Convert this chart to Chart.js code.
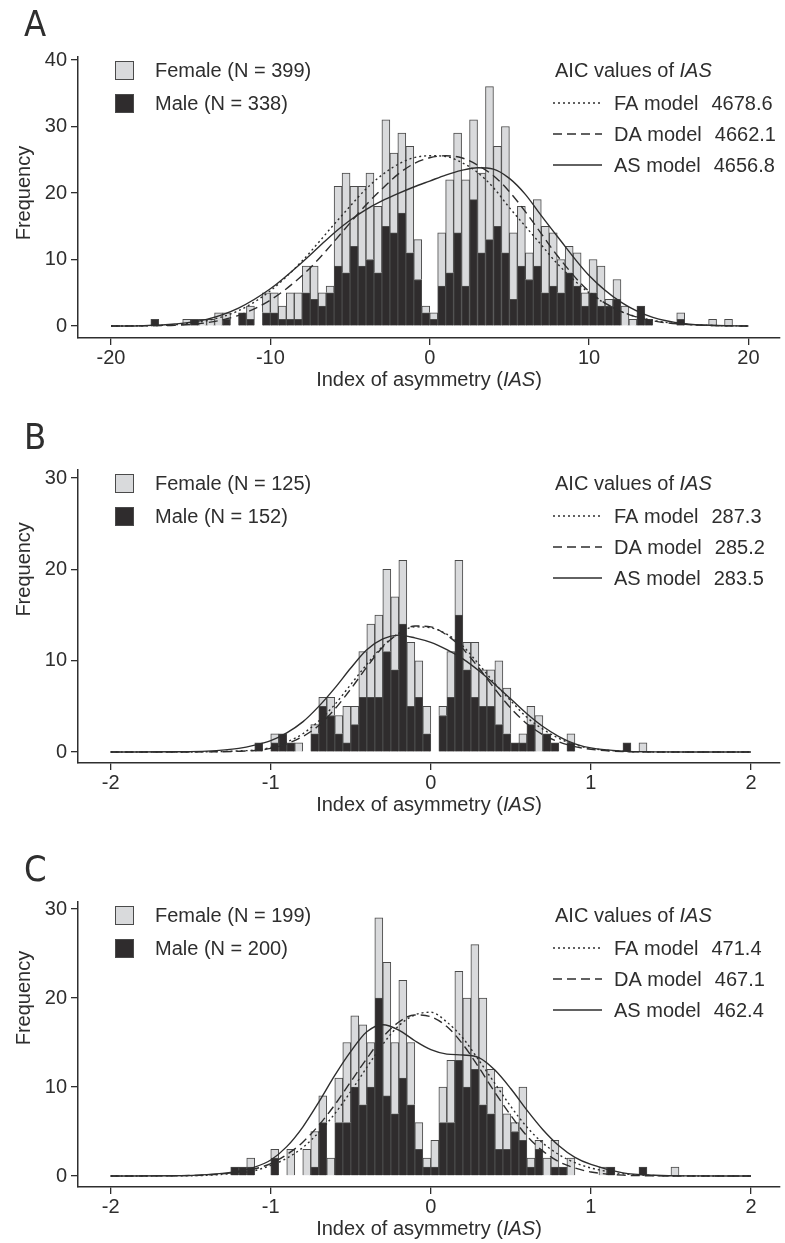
<!DOCTYPE html>
<html><head><meta charset="utf-8">
<script src="https://cdn.jsdelivr.net/npm/chart.js@4.4.0/dist/chart.umd.min.js"></script>
<style>
html,body{margin:0;padding:0;background:#fff;}
#wrap{position:relative;width:785px;height:1243px;overflow:hidden;}
canvas{position:absolute;left:0;display:block;}
</style></head><body>
<div id="wrap">
<canvas id="cA" width="785" height="413" style="top:0"></canvas>
<canvas id="cB" width="785" height="414" style="top:413px"></canvas>
<canvas id="cC" width="785" height="416" style="top:827px"></canvas>
</div>
<script>
// ---------- Panel A data ----------
const aBins = [-17.25,-16.75,-16.25,-15.75,-15.25,-14.75,-14.25,-13.75,-13.25,-12.75,-12.25,-11.75,-11.25,-10.75,-10.25,-9.75,-9.25,-8.75,-8.25,-7.75,-7.25,-6.75,-6.25,-5.75,-5.25,-4.75,-4.25,-3.75,-3.25,-2.75,-2.25,-1.75,-1.25,-0.75,-0.25,0.25,0.75,1.25,1.75,2.25,2.75,3.25,3.75,4.25,4.75,5.25,5.75,6.25,6.75,7.25,7.75,8.25,8.75,9.25,9.75,10.25,10.75,11.25,11.75,12.25,12.75,13.25,13.75,14.25,14.75,15.25,15.75,16.25,16.75,17.25,17.75,18.25,18.75];
const aMale   = [1,0,0,0,0,1,0,0,0,1,0,2,1,0,2,2,1,1,1,5,4,3,5,9,8,12,9,10,8,15,14,17,11,7,2,1,6,8,14,6,19,11,13,15,11,4,9,7,9,5,6,5,8,6,3,5,3,3,4,0,0,3,1,0,0,0,1,0,0,0,0,0,0];
const aFemale = [0,0,0,0,1,0,1,1,2,1,0,0,2,0,3,3,2,4,4,4,5,2,1,12,15,9,12,13,10,16,12,12,16,6,1,1,8,14,15,16,12,12,23,12,19,10,9,4,10,10,8,5,4,5,2,5,6,1,3,3,1,0,0,0,0,0,1,0,0,0,1,0,1];
const aCurveX = [-20,-18,-16,-14,-12,-10,-8,-7,-6,-5,-4,-3,-2,-1,0,1,2,3,4,5,6,7,8,10,12,14,16,18,20];
const aFA = [0,0.05,0.2,0.8,2.3,5.3,9.8,12.5,15.3,18.0,20.6,22.7,24.3,25.3,25.6,25.5,24.6,23.1,20.8,17.8,15.0,12.2,9.4,5.0,2.2,0.85,0.28,0.07,0];
const aDA = [0,0.03,0.12,0.5,1.6,3.9,7.6,10.0,12.7,15.5,18.2,20.6,22.8,24.4,25.3,25.6,25.3,24.2,22.6,20.2,17.2,13.9,10.6,5.2,2.2,0.8,0.25,0.06,0];
const aAS = [0,0.05,0.3,1.0,2.7,5.6,9.6,11.8,14.0,15.9,17.5,18.8,19.9,20.9,21.8,22.7,23.4,23.8,23.6,22.2,19.8,16.6,13.5,7.6,3.6,1.3,0.35,0.08,0];
const aXTicks = [-20,-10,0,10,20];
const aYTicks = [0,10,20,30,40];

// ---------- Panel B data ----------
const bBins = [-1.075,-1.025,-0.975,-0.925,-0.875,-0.825,-0.775,-0.725,-0.675,-0.625,-0.575,-0.525,-0.475,-0.425,-0.375,-0.325,-0.275,-0.225,-0.175,-0.125,-0.075,-0.025,0.025,0.075,0.125,0.175,0.225,0.275,0.325,0.375,0.425,0.475,0.525,0.575,0.625,0.675,0.725,0.775,0.825,0.875,0.925,0.975,1.025,1.075,1.125,1.175,1.225,1.275,1.325];
const bMale   = [1,0,1,2,1,0,0,2,5,4,2,1,3,6,6,6,11,9,14,5,6,2,0,4,6,15,9,6,5,5,3,2,1,1,3,0,2,1,0,1,0,0,0,0,0,0,1,0,0];
const bFemale = [0,0,1,0,0,1,0,1,1,2,2,4,2,5,8,9,9,8,7,7,4,3,0,1,5,6,3,6,4,4,7,5,0,1,2,4,0,0,0,1,0,0,0,0,0,0,0,0,1];
const bCurveX = [-2,-1.6,-1.4,-1.2,-1.1,-1.0,-0.9,-0.8,-0.7,-0.6,-0.5,-0.4,-0.3,-0.2,-0.1,0,0.1,0.2,0.3,0.4,0.5,0.6,0.7,0.8,0.9,1.0,1.2,1.4,1.6,2];
const bFA = [0,0,0.03,0.12,0.22,0.5,1.1,2.0,3.4,5.2,7.4,9.6,11.6,13.0,13.7,13.6,12.9,11.6,9.6,7.5,5.6,3.8,2.5,1.5,0.8,0.4,0.08,0.01,0,0];
const bDA = [0,0,0.02,0.08,0.17,0.4,0.9,1.7,2.9,4.7,6.9,9.3,11.5,13.0,13.8,13.7,12.8,11.3,9.2,6.9,4.8,3.1,1.9,1.1,0.6,0.3,0.05,0.01,0,0];
const bAS = [0,0.03,0.1,0.4,0.75,1.25,2.1,3.3,5.0,7.0,9.2,11.2,12.4,12.8,12.5,12.0,11.2,10.2,8.9,7.4,5.8,4.2,2.8,1.7,0.9,0.45,0.1,0.02,0,0];
const bXTicks = [-2,-1,0,1,2];
const bYTicks = [0,10,20,30];

// ---------- Panel C data ----------
const cBins = [-1.225,-1.175,-1.125,-1.075,-1.025,-0.975,-0.925,-0.875,-0.825,-0.775,-0.725,-0.675,-0.625,-0.575,-0.525,-0.475,-0.425,-0.375,-0.325,-0.275,-0.225,-0.175,-0.125,-0.075,-0.025,0.025,0.075,0.125,0.175,0.225,0.275,0.325,0.375,0.425,0.475,0.525,0.575,0.625,0.675,0.725,0.775,0.825,0.875,0.925,0.975,1.025,1.075,1.125,1.175,1.225,1.275,1.325,1.375,1.425,1.475,1.525];
const cMale   = [1,1,1,0,0,2,0,0,0,0,1,6,0,6,6,10,8,10,20,9,7,11,8,3,1,1,6,6,13,10,12,8,7,3,3,5,4,1,3,0,1,1,0,0,0,0,0,1,0,0,0,1,0,0,0,0];
const cFemale = [0,0,1,0,0,1,0,3,0,3,4,3,2,5,9,8,9,5,9,15,8,11,7,3,1,3,4,7,10,10,14,12,5,7,4,1,6,1,1,2,3,0,2,0,0,0,1,0,0,0,0,0,0,0,0,1];
const cCurveX = [-2,-1.6,-1.4,-1.2,-1.1,-1.0,-0.9,-0.8,-0.7,-0.6,-0.5,-0.4,-0.3,-0.2,-0.1,0,0.1,0.2,0.3,0.4,0.5,0.6,0.7,0.8,0.9,1.0,1.2,1.4,1.6,2];
const cFA = [0,0.02,0.08,0.35,0.6,1.2,2.0,3.2,4.9,7.0,9.5,12.2,14.8,16.9,18.1,18.4,17.3,15.5,13.0,10.4,7.8,5.5,3.7,2.4,1.5,0.9,0.25,0.05,0.01,0];
const cDA = [0,0.03,0.12,0.45,0.8,1.4,2.4,3.8,5.7,8.0,10.6,13.2,15.6,17.3,18.1,17.9,16.8,14.8,12.2,9.4,6.8,4.5,2.8,1.6,0.9,0.45,0.1,0.02,0,0];
const cAS = [0,0.03,0.15,0.55,1.0,1.8,3.3,5.5,8.3,11.3,14.0,16.2,17.0,16.4,15.2,14.2,13.7,13.6,13.3,11.9,9.8,7.4,5.2,3.4,2.1,1.3,0.35,0.08,0.01,0];
const cXTicks = [-2,-1,0,1,2];
const cYTicks = [0,10,20,30];

// ---------- Texts ----------
const panelLetters = ['A','B','C'];
const femaleLabels = ['Female (N = 399)','Female (N = 125)','Female (N = 199)'];
const maleLabels   = ['Male (N = 338)','Male (N = 152)','Male (N = 200)'];
const aicFA = ['4678.6','287.3','471.4'];
const aicDA = ['4662.1','285.2','467.1'];
const aicAS = ['4656.8','283.5','462.4'];
const modelNames = ['FA model','DA model','AS model'];

// ---------- Styles ----------
const FONT = '"Liberation Sans", Arial, Helvetica, sans-serif';
const INK = '#2e2e2e';
const MALE_FILL = '#2f2c2d';
const FEMALE_FILL = '#d9dadc';
const EDGE = '#4a4a4a';
const DASHES = [[2,3],[9,5],[]];

function drawMixed(ctx, parts, cx, cy, size) {
  const fonts = parts.map(p => (p[1] ? 'italic ' : '') + size + 'px ' + FONT);
  let total = 0;
  const widths = parts.map((p,i) => { ctx.font = fonts[i]; const w = ctx.measureText(p[0]).width; total += w; return w; });
  let x = cx - total/2;
  ctx.textAlign = 'left';
  parts.forEach((p,i) => { ctx.font = fonts[i]; ctx.fillText(p[0], x, cy); x += widths[i]; });
}
function drawMixedLeft(ctx, parts, x, cy, size) {
  ctx.textAlign = 'left';
  parts.forEach(p => { ctx.font = (p[1] ? 'italic ' : '') + size + 'px ' + FONT; ctx.fillText(p[0], x, cy); x += ctx.measureText(p[0]).width; });
}

const annot = {
  id: 'annot',
  afterDraw(chart, args, o) {
    const ctx = chart.ctx, a = chart.chartArea, ys = chart.scales.y;
    const i = o.idx, T = a.top;
    ctx.save();
    ctx.fillStyle = INK;
    ctx.textBaseline = 'middle';
    // panel letter
    ctx.font = '36px "Liberation Sans Narrow", "DejaVu Sans Condensed", ' + FONT;
    ctx.textAlign = 'left';
    ctx.fillText(panelLetters[i], 24, T - 30);
    // y title
    ctx.save();
    ctx.translate(24, ys.getPixelForValue(20));
    ctx.rotate(-Math.PI/2);
    ctx.textAlign = 'center';
    ctx.font = '20px ' + FONT;
    ctx.fillText('Frequency', 0, 0);
    ctx.restore();
    // x title
    drawMixed(ctx, [['Index of asymmetry (',false],['IAS',true],[')',false]], (a.left+a.right)/2, a.bottom + 42, 20);
    // sex legend
    const sq = 19;
    ctx.lineWidth = 1;
    ctx.strokeStyle = EDGE;
    ctx.fillStyle = FEMALE_FILL; ctx.fillRect(115, T+4, sq, sq); ctx.strokeRect(115.5, T+4.5, sq-1, sq-1);
    ctx.fillStyle = MALE_FILL; ctx.fillRect(115, T+37, sq, sq); ctx.strokeRect(115.5, T+37.5, sq-1, sq-1);
    ctx.fillStyle = INK;
    ctx.font = '20px ' + FONT; ctx.textAlign = 'left';
    ctx.fillText(femaleLabels[i], 155, T+14);
    ctx.fillText(maleLabels[i], 155, T+47);
    // AIC legend
    drawMixedLeft(ctx, [['AIC values of ',false],['IAS',true]], 555, T+14, 20);
    const rows = [T+46, T+77, T+108];
    const vals = [aicFA[i], aicDA[i], aicAS[i]];
    rows.forEach((y, k) => {
      ctx.save();
      ctx.strokeStyle = INK; ctx.lineWidth = 1.4; ctx.setLineDash(DASHES[k]);
      ctx.beginPath(); ctx.moveTo(553, y); ctx.lineTo(602, y); ctx.stroke();
      ctx.restore();
      ctx.font = '20px ' + FONT; ctx.textAlign = 'left';
      ctx.fillText(modelNames[k], 614, y+1);
      const w = ctx.measureText(modelNames[k]).width;
      ctx.fillText(vals[k], 614 + w + 13, y+1);
    });
    ctx.restore();
  }
};

function makePanel(id, d) {
  const lineDs = (vals, k, name) => ({
    type: 'line', label: name, data: d.curveX.map((x, j) => ({x: x, y: vals[j]})),
    borderColor: INK, borderWidth: 1.4, borderDash: DASHES[k], pointRadius: 0,
    cubicInterpolationMode: 'monotone', fill: false, stack: 'curve' + k
  });
  new Chart(document.getElementById(id), {
    type: 'bar',
    data: {
      datasets: [
        lineDs(d.fa, 0, 'FA model'),
        lineDs(d.da, 1, 'DA model'),
        lineDs(d.as, 2, 'AS model'),
        { type: 'bar', label: 'Male', data: d.bins.map((x, j) => ({x: x, y: d.male[j] || null})),
          backgroundColor: MALE_FILL, borderColor: EDGE, borderWidth: 1, stack: 'hist',
          barPercentage: 1, categoryPercentage: 1 },
        { type: 'bar', label: 'Female', data: d.bins.map((x, j) => ({x: x, y: d.female[j] || null})),
          backgroundColor: FEMALE_FILL, borderColor: EDGE, borderWidth: 1, stack: 'hist',
          barPercentage: 1, categoryPercentage: 1 }
      ]
    },
    options: {
      responsive: false, animation: false, devicePixelRatio: 1,
      layout: { padding: { top: d.top, left: 0, right: 5, bottom: 0 } },
      plugins: { legend: { display: false }, tooltip: { enabled: false }, annot: { idx: d.idx } },
      scales: {
        x: {
          type: 'linear', min: d.xmin, max: d.xmax, offset: false,
          grid: { display: true, drawOnChartArea: false, drawTicks: true, tickLength: 7, color: INK, lineWidth: 1.3, offset: false },
          border: { display: true, color: INK, width: 1.5 },
          ticks: { font: { size: 20, family: FONT }, color: INK, padding: 1, maxRotation: 0, autoSkip: false, callback: v => String(v) },
          afterBuildTicks: s => { s.ticks = d.xTicks.map(v => ({ value: v })); },
          afterFit: s => { s.height = d.h - d.bottom; }
        },
        y: {
          type: 'linear', stacked: true, min: d.ymin, max: d.ymax,
          grid: { display: true, drawOnChartArea: false, drawTicks: true, tickLength: 7, color: INK, lineWidth: 1.3 },
          border: { display: true, color: INK, width: 1.5 },
          ticks: { font: { size: 20, family: FONT }, color: INK, padding: 4, callback: v => String(v) },
          afterBuildTicks: s => { s.ticks = d.yTicks.map(v => ({ value: v })); },
          afterFit: s => { s.width = 78; }
        }
      }
    },
    plugins: [annot]
  });
}

makePanel('cA', { idx: 0, h: 413, top: 57, bottom: 338, xmin: -22.07, xmax: 21.98, ymin: -1.8, ymax: 40.45,
  bins: aBins, male: aMale, female: aFemale, curveX: aCurveX, fa: aFA, da: aDA, as: aAS, xTicks: aXTicks, yTicks: aYTicks });
makePanel('cB', { idx: 1, h: 414, top: 57, bottom: 350, xmin: -2.204, xmax: 2.181, ymin: -1.2, ymax: 30.88,
  bins: bBins, male: bMale, female: bFemale, curveX: bCurveX, fa: bFA, da: bDA, as: bAS, xTicks: bXTicks, yTicks: bYTicks });
makePanel('cC', { idx: 2, h: 416, top: 75, bottom: 360, xmin: -2.204, xmax: 2.181, ymin: -1.236, ymax: 30.79,
  bins: cBins, male: cMale, female: cFemale, curveX: cCurveX, fa: cFA, da: cDA, as: cAS, xTicks: cXTicks, yTicks: cYTicks });
</script>
</body></html>
